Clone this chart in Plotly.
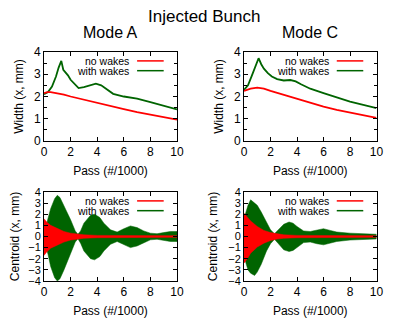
import plotly.graph_objects as go
from plotly.subplots import make_subplots

# Width (x, mm) vs pass (#/1000)
pass_a_nw = [0, 0.25, 0.5, 1, 1.5, 2, 3, 4, 5, 6, 7, 8, 9, 10]
width_a_nw = [2.15, 2.2, 2.2, 2.15, 2.08, 2.0, 1.85, 1.7, 1.57, 1.43, 1.3, 1.18, 1.07, 0.96]
pass_a_ww = [0, 0.3, 0.6, 0.9, 1.1, 1.3, 1.45, 1.6, 1.8, 2.0, 2.3, 2.6, 3.0, 3.5, 3.9, 4.3, 4.7, 5.2, 6, 7, 8, 9, 10]
width_a_ww = [2.1, 2.2, 2.45, 2.9, 3.3, 3.6, 3.2, 3.1, 2.95, 2.75, 2.55, 2.38, 2.42, 2.52, 2.58, 2.5, 2.32, 2.12, 2.0, 1.9, 1.75, 1.58, 1.42]
pass_c_nw = [0, 0.25, 0.5, 1, 1.5, 2, 3, 4, 5, 6, 7, 8, 9, 10]
width_c_nw = [2.25, 2.3, 2.35, 2.4, 2.35, 2.25, 2.07, 1.9, 1.72, 1.55, 1.4, 1.27, 1.15, 1.04]
pass_c_ww = [0, 0.3, 0.6, 0.9, 1.1, 1.3, 1.5, 1.8, 2.1, 2.5, 3.0, 3.5, 3.9, 4.3, 5, 6, 7, 8, 9, 10]
width_c_ww = [2.3, 2.5, 2.95, 3.45, 3.72, 3.45, 3.25, 3.05, 2.9, 2.78, 2.72, 2.74, 2.68, 2.55, 2.35, 2.15, 1.95, 1.77, 1.62, 1.48]

# Centroid (x, mm) envelopes of the oscillation
cen_a_nw_x = [0, 0.2, 0.5, 1, 1.5, 2, 2.5, 3, 4, 6, 10]
cen_a_nw_hi = [1.6, 1.3, 1.0, 0.7, 0.45, 0.3, 0.2, 0.15, 0.1, 0.08, 0.07]
cen_a_nw_lo = [-1.7, -1.4, -1.05, -0.75, -0.5, -0.32, -0.22, -0.16, -0.11, -0.08, -0.07]
cen_a_ww_x = [0, 0.3, 0.5, 0.8, 1.0, 1.2, 1.5, 2.0, 2.35, 2.55, 2.75, 3.0, 3.5, 3.8, 4.2, 4.5, 5.0, 5.5, 6.0, 6.5, 7.0, 7.5, 8.0, 8.5, 9.0, 9.5, 10]
cen_a_ww_hi = [0.3, 1.5, 2.5, 3.4, 3.7, 3.5, 2.8, 1.5, 0.5, 0.2, 0.5, 1.2, 1.9, 2.0, 1.7, 1.2, 0.6, 0.4, 0.7, 0.95, 0.8, 0.5, 0.3, 0.25, 0.35, 0.45, 0.45]
cen_a_ww_lo = [-0.3, -1.6, -2.7, -3.7, -4.0, -3.8, -3.0, -1.6, -0.5, -0.2, -0.6, -1.3, -2.0, -2.1, -1.8, -1.3, -0.7, -0.45, -0.75, -1.0, -0.85, -0.55, -0.3, -0.25, -0.35, -0.45, -0.45]
cen_c_nw_x = [0, 0.15, 0.3, 0.5, 1, 1.5, 2, 2.5, 3, 4, 6, 10]
cen_c_nw_hi = [2.1, 1.9, 1.7, 1.4, 0.9, 0.55, 0.35, 0.22, 0.15, 0.1, 0.08, 0.07]
cen_c_nw_lo = [-2.4, -2.2, -1.9, -1.5, -0.95, -0.6, -0.37, -0.23, -0.16, -0.11, -0.08, -0.07]
cen_c_ww_x = [0, 0.1, 0.3, 0.5, 0.8, 1.0, 1.3, 1.7, 2.0, 2.3, 2.6, 3.0, 3.4, 3.7, 4.0, 4.5, 5.0, 5.5, 6.0, 6.5, 7.0, 8.0, 9.0, 10]
cen_c_ww_hi = [0.5, 2.0, 2.8, 3.3, 3.0, 2.8, 2.2, 1.2, 0.6, 0.25, 0.6, 1.1, 1.3, 1.2, 0.9, 0.5, 0.45, 0.6, 0.7, 0.55, 0.4, 0.3, 0.25, 0.2]
cen_c_ww_lo = [-0.5, -2.2, -3.0, -3.3, -3.5, -3.2, -2.5, -1.3, -0.65, -0.25, -0.65, -1.2, -1.35, -1.25, -0.95, -0.55, -0.5, -0.65, -0.75, -0.6, -0.45, -0.32, -0.27, -0.22]

RED = "#ff0000"
GREEN = "#006400"
FONT = "Liberation Sans, Arial, sans-serif"

# page body has an 8px margin, so the figure is 8px smaller than the window
W, H = 391, 312

fig = make_subplots(rows=2, cols=2)


def band(x, hi, lo, color):
    return go.Scatter(x=list(x) + list(x[::-1]), y=list(hi) + list(lo[::-1]),
                      fill="toself", fillcolor=color, mode="lines",
                      line=dict(color=color, width=0.5), showlegend=False)


fig.add_trace(go.Scatter(x=pass_a_ww, y=width_a_ww, mode="lines", line=dict(color=GREEN, width=1.8), showlegend=False), row=1, col=1)
fig.add_trace(go.Scatter(x=pass_a_nw, y=width_a_nw, mode="lines", line=dict(color=RED, width=1.8), showlegend=False), row=1, col=1)
fig.add_trace(go.Scatter(x=pass_c_ww, y=width_c_ww, mode="lines", line=dict(color=GREEN, width=1.8), showlegend=False), row=1, col=2)
fig.add_trace(go.Scatter(x=pass_c_nw, y=width_c_nw, mode="lines", line=dict(color=RED, width=1.8), showlegend=False), row=1, col=2)

fig.add_trace(band(cen_a_ww_x, cen_a_ww_hi, cen_a_ww_lo, GREEN), row=2, col=1)
fig.add_trace(band(cen_a_nw_x, cen_a_nw_hi, cen_a_nw_lo, RED), row=2, col=1)
fig.add_trace(band(cen_c_ww_x, cen_c_ww_hi, cen_c_ww_lo, GREEN), row=2, col=2)
fig.add_trace(band(cen_c_nw_x, cen_c_nw_hi, cen_c_nw_lo, RED), row=2, col=2)

xdom = [[0.0921, 0.4322], [0.6036, 0.9425]]
ydom = [[0.5737, 0.859], [0.125, 0.4103]]

axis_common = dict(showline=True, linecolor="black", linewidth=1, mirror="allticks",
                   ticks="inside", ticklen=4, tickcolor="black", showgrid=False,
                   zeroline=False, automargin=False,
                   tickfont=dict(size=12, color="black", family=FONT),
                   title_font=dict(size=12, color="black", family=FONT))

for r in (1, 2):
    for c in (1, 2):
        fig.update_xaxes(axis_common, domain=xdom[c - 1], range=[0, 10], dtick=2,
                         title_text="Pass (#/1000)", title_standoff=8, row=r, col=c)
        if r == 1:
            fig.update_yaxes(axis_common, domain=ydom[0], range=[0, 4], dtick=1,
                             minor=dict(dtick=0.5, ticks="inside", ticklen=3, tickcolor="black"),
                             title_text="Width (x, mm)", title_standoff=7, row=r, col=c)
        else:
            fig.update_yaxes(axis_common, domain=ydom[1], range=[-4, 4], dtick=1,
                             tickfont_size=11,
                             title_text="Centroid (x, mm)", title_standoff=8, row=r, col=c)

# gnuplot-style key: label on the left, sample line on the right
names = ["x", "x2", "x3", "x4"]
ynames = ["y", "y2", "y3", "y4"]
for xa, ya in zip(names, ynames):
    for label, color, yk in (("no wakes", RED, 0.9), ("with wakes", GREEN, 0.79)):
        fig.add_annotation(x=0.655, y=yk, xref=xa + " domain", yref=ya + " domain",
                           text=label, showarrow=False, xanchor="right", yanchor="middle",
                           font=dict(size=10.5, color="black", family=FONT))
        fig.add_shape(type="line", x0=0.70, x1=0.90, y0=yk, y1=yk,
                      xref=xa + " domain", yref=ya + " domain",
                      line=dict(color=color, width=1.5))

fig.add_annotation(x=0.5, y=0.972, xref="paper", yref="paper", text="Injected Bunch",
                   showarrow=False, xanchor="center", yanchor="middle", borderpad=0,
                   font=dict(size=17, color="black", family=FONT))
fig.add_annotation(x=sum(xdom[0]) / 2, y=0.923, xref="paper", yref="paper", text="Mode A",
                   showarrow=False, xanchor="center", yanchor="middle",
                   font=dict(size=16, color="black", family=FONT))
fig.add_annotation(x=sum(xdom[1]) / 2, y=0.923, xref="paper", yref="paper", text="Mode C",
                   showarrow=False, xanchor="center", yanchor="middle",
                   font=dict(size=16, color="black", family=FONT))

fig.update_layout(width=W, height=H, margin=dict(l=0, r=0, t=0, b=0),
                  plot_bgcolor="white", paper_bgcolor="white", showlegend=False,
                  font=dict(family=FONT, color="black"))

fig.write_html("out.html")
